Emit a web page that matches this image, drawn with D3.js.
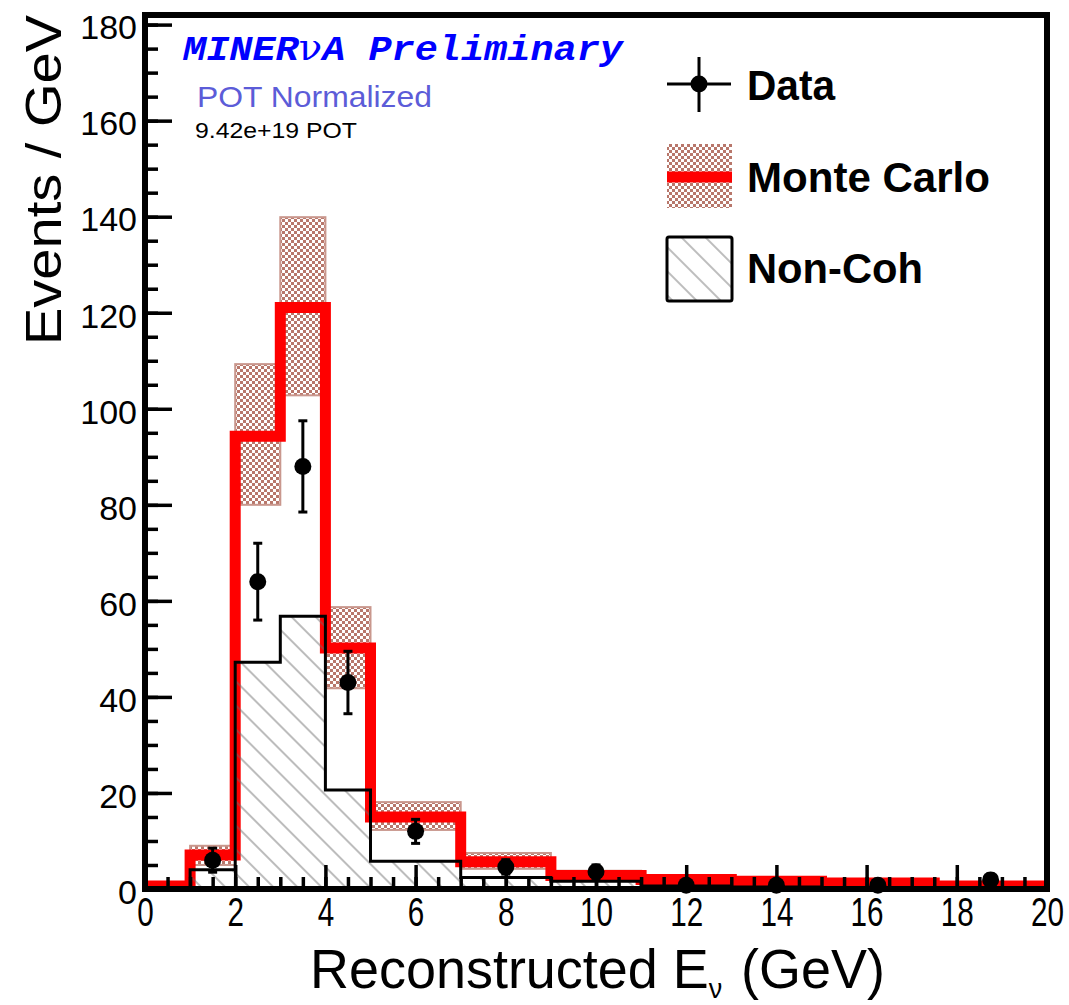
<!DOCTYPE html>
<html>
<head>
<meta charset="utf-8">
<script src="https://cdn.jsdelivr.net/npm/d3@7"></script>
<style>
body { margin: 0; background: #fff; }
svg text { font-family: "Liberation Sans", Arial, sans-serif; }
</style>
</head>
<body>
<svg id="chart" width="1069" height="1005"></svg>
<script>
// histogram bins (GeV) and contents (events / GeV)
const binEdges = [0, 1, 2, 3, 4, 5, 7, 9, 11, 13, 15, 17.5, 20];
const mcValues = [0.6, 7.1, 94.3, 121.1, 50.2, 15.0, 5.7, 2.8, 2.0, 1.6, 1.25, 0.6];
const mcBandLow = [0.3, 5.0, 80.0, 102.8, 41.8, 12.3, 4.2, 1.8, 1.4, 1.1, 0.9, 0.3];
const mcBandHigh = [0.9, 9.0, 109.3, 139.9, 58.7, 18.1, 7.5, 3.8, 2.6, 2.1, 1.6, 0.9];
const nonCohValues = [0, 4.0, 47.2, 56.8, 20.6, 5.8, 2.4, 1.6, 0.6, 0.4, 0.3, 0.2];
const dataX = [1.5, 2.5, 3.5, 4.5, 6, 8, 10, 12, 14, 16.25, 18.75];
const dataY = [6.0, 64, 88, 43, 12, 4.6, 3.6, 0.8, 0.8, 0.8, 1.9];
const dataErr = [2.5, 8, 9.5, 6.5, 2.5, 1.5, 1.4, 0.8, 0.8, 0.8, 1.2];
const xTickLabels = [0, 2, 4, 6, 8, 10, 12, 14, 16, 18, 20];
const yTickLabels = [0, 20, 40, 60, 80, 100, 120, 140, 160, 180];

const FRAME = {left: 145, right: 1047, top: 15, bottom: 889};
const RED = "#ff0000";
const BAND = "#b8776b";

const svg = d3.select("#chart");
svg.append("rect").attr("width", 1069).attr("height", 1005).attr("fill", "#fff");

const x = d3.scaleLinear().domain([0, 20]).range([FRAME.left, FRAME.right]);
const y = d3.scaleLinear().domain([0, 182]).range([FRAME.bottom, FRAME.top]);

const defs = svg.append("defs");
// checkered fill for the MC error band
const checker = defs.append("pattern").attr("id", "checker")
  .attr("patternUnits", "userSpaceOnUse").attr("width", 6).attr("height", 6);
checker.append("rect").attr("width", 6).attr("height", 6).attr("fill", BAND);
checker.append("rect").attr("x", 0).attr("y", 0).attr("width", 3).attr("height", 3).attr("fill", "#fff");
checker.append("rect").attr("x", 3).attr("y", 3).attr("width", 3).attr("height", 3).attr("fill", "#fff");
// diagonal hatch for non-coherent
const hatch = defs.append("pattern").attr("id", "hatch")
  .attr("patternUnits", "userSpaceOnUse").attr("width", 17).attr("height", 17)
  .attr("patternTransform", "rotate(-45)");
hatch.append("line").attr("x1", 8).attr("x2", 8).attr("y1", 0).attr("y2", 17)
  .attr("stroke", "#6a6a6a").attr("stroke-width", 0.9);

const bins = mcValues.map((v, i) => ({
  x0: binEdges[i], x1: binEdges[i + 1], mc: v,
  lo: mcBandLow[i], hi: mcBandHigh[i], nonCoh: nonCohValues[i]
}));

// MC error band
svg.append("g").selectAll("rect")
  .data(bins)
  .join("rect")
    .attr("x", d => x(d.x0))
    .attr("width", d => x(d.x1) - x(d.x0))
    .attr("y", d => y(d.hi))
    .attr("height", d => y(d.lo) - y(d.hi))
    .attr("fill", "url(#checker)")
    .attr("stroke", "#c9978d")
    .attr("stroke-width", 2);

// MC central value
const stepPts = bins.map(d => [d.x0, d.mc]).concat([[20, mcValues[mcValues.length - 1]]]);
const step = d3.line().x(d => x(d[0])).y(d => y(d[1])).curve(d3.curveStepAfter);
svg.append("path")
  .attr("d", step(stepPts))
  .attr("fill", "none")
  .attr("stroke", RED)
  .attr("stroke-width", 11)
  .attr("stroke-linejoin", "miter");

// non-coherent background
const ncPts = bins.map(d => [d.x0, d.nonCoh]).concat([[20, nonCohValues[nonCohValues.length - 1]]]);
const area = d3.area().x(d => x(d[0])).y0(y(0)).y1(d => y(d[1])).curve(d3.curveStepAfter);
svg.append("path").attr("d", area(ncPts)).attr("fill", "url(#hatch)");
svg.append("path")
  .attr("d", step([[0, 0]].concat(ncPts)))
  .attr("fill", "none")
  .attr("stroke", "#000")
  .attr("stroke-width", 3);

// data points
const pts = dataX.map((v, i) => ({x: v, y: dataY[i], e: dataErr[i]}));
const dg = svg.append("g");
dg.selectAll("line.err")
  .data(pts)
  .join("line")
    .attr("class", "err")
    .attr("x1", d => x(d.x)).attr("x2", d => x(d.x))
    .attr("y1", d => y(d.y - d.e)).attr("y2", d => y(d.y + d.e))
    .attr("stroke", "#000").attr("stroke-width", 3);
["lo", "hi"].forEach(side => {
  dg.selectAll("line.cap-" + side)
    .data(pts)
    .join("line")
      .attr("class", "cap-" + side)
      .attr("x1", d => x(d.x) - 4.5).attr("x2", d => x(d.x) + 4.5)
      .attr("y1", d => y(side === "lo" ? d.y - d.e : d.y + d.e))
      .attr("y2", d => y(side === "lo" ? d.y - d.e : d.y + d.e))
      .attr("stroke", "#000").attr("stroke-width", 3);
});
dg.selectAll("circle")
  .data(pts)
  .join("circle")
    .attr("cx", d => x(d.x)).attr("cy", d => y(d.y))
    .attr("r", 8.5).attr("fill", "#000");

// axes: ticks inside the frame
const xMinor = d3.range(0, 20.01, 0.5);
const yMinor = d3.range(0, 181, 5);
svg.append("g").attr("transform", "translate(0," + FRAME.bottom + ")")
  .call(d3.axisBottom(x).tickValues(xMinor).tickSize(-12).tickFormat(""))
  .call(g => g.select(".domain").remove())
  .call(g => g.selectAll("line").attr("stroke", "#000").attr("stroke-width", 3.5));
svg.append("g").attr("transform", "translate(0," + FRAME.bottom + ")")
  .call(d3.axisBottom(x).tickValues(xTickLabels).tickSize(-24).tickPadding(9))
  .call(g => g.select(".domain").remove())
  .call(g => g.selectAll("line").attr("stroke", "#000").attr("stroke-width", 3.5))
  .call(g => g.selectAll("text")
    .attr("fill", "#000")
    .style("font-size", "40px")
    .attr("textLength", d => String(d).length * 16.5)
    .attr("lengthAdjust", "spacingAndGlyphs"));

svg.append("g").attr("transform", "translate(" + FRAME.left + ",0)")
  .call(d3.axisLeft(y).tickValues(yMinor).tickSize(-13).tickFormat(""))
  .call(g => g.select(".domain").remove())
  .call(g => g.selectAll("line").attr("stroke", "#000").attr("stroke-width", 3.5));
svg.append("g").attr("transform", "translate(" + FRAME.left + ",0)")
  .call(d3.axisLeft(y).tickValues(yTickLabels).tickSize(-27).tickPadding(8))
  .call(g => g.select(".domain").remove())
  .call(g => g.selectAll("line").attr("stroke", "#000").attr("stroke-width", 3.5))
  .call(g => g.selectAll("text").attr("fill", "#000").style("font-size", "34px").attr("dy", "0.42em"));

// frame
svg.append("rect")
  .attr("x", FRAME.left).attr("y", FRAME.top)
  .attr("width", FRAME.right - FRAME.left).attr("height", FRAME.bottom - FRAME.top)
  .attr("fill", "none").attr("stroke", "#000").attr("stroke-width", 6);

// axis titles
svg.append("text")
  .attr("transform", "translate(61,345) rotate(-90)")
  .attr("textLength", 330).attr("lengthAdjust", "spacingAndGlyphs")
  .style("font-size", "50px")
  .text("Events / GeV");

const xt = svg.append("text")
  .attr("x", 310).attr("y", 988)
  .attr("textLength", 575).attr("lengthAdjust", "spacingAndGlyphs")
  .style("font-size", "56px");
xt.append("tspan").text("Reconstructed E");
xt.append("tspan").attr("dy", 10).style("font-size", "28px").text("ν");
xt.append("tspan").attr("dy", -10).attr("dx", 4).text(" (GeV)");

// labels in the top-left corner
const mv = svg.append("text")
  .attr("x", 183).attr("y", 60)
  .attr("fill", "#0000ff")
  .attr("textLength", 440).attr("lengthAdjust", "spacingAndGlyphs")
  .style("font-family", "'Liberation Mono', 'Courier New', monospace")
  .style("font-weight", "bold").style("font-style", "italic")
  .style("font-size", "35px");
mv.append("tspan").text("MINER");
mv.append("tspan").style("font-family", "'DejaVu Serif', serif")
  .style("font-weight", "normal").style("font-style", "normal").text("ν");
mv.append("tspan").text("A Preliminary");

svg.append("text")
  .attr("x", 197).attr("y", 107)
  .attr("fill", "#5c5cd8")
  .attr("textLength", 235).attr("lengthAdjust", "spacingAndGlyphs")
  .style("font-size", "30px")
  .text("POT Normalized");
svg.append("text")
  .attr("x", 195).attr("y", 138)
  .attr("fill", "#000")
  .attr("textLength", 162).attr("lengthAdjust", "spacingAndGlyphs")
  .style("font-size", "22px")
  .text("9.42e+19 POT");

// legend
const lg = svg.append("g");
lg.append("line").attr("x1", 667).attr("x2", 731).attr("y1", 84).attr("y2", 84)
  .attr("stroke", "#000").attr("stroke-width", 3);
lg.append("line").attr("x1", 699).attr("x2", 699).attr("y1", 57).attr("y2", 112)
  .attr("stroke", "#000").attr("stroke-width", 3);
lg.append("circle").attr("cx", 699).attr("cy", 84).attr("r", 8.5).attr("fill", "#000");

lg.append("rect").attr("x", 667).attr("y", 144).attr("width", 65).attr("height", 64)
  .attr("fill", "url(#checker)");
lg.append("line").attr("x1", 667).attr("x2", 732).attr("y1", 177).attr("y2", 177)
  .attr("stroke", RED).attr("stroke-width", 11);

lg.append("rect").attr("x", 667).attr("y", 237).attr("width", 65).attr("height", 64)
  .attr("fill", "#fff").attr("rx", 2);
lg.append("rect").attr("x", 667).attr("y", 237).attr("width", 65).attr("height", 64)
  .attr("fill", "url(#hatch)").attr("stroke", "#000").attr("stroke-width", 3).attr("rx", 2);

const legendNames = ["Data", "Monte Carlo", "Non-Coh"];
const legendBase = [100, 192, 283];
const legendLen = [88, 243, 176];
lg.selectAll("text.leg")
  .data(legendNames)
  .join("text")
    .attr("class", "leg")
    .attr("x", 747)
    .attr("y", (d, i) => legendBase[i])
    .attr("textLength", (d, i) => legendLen[i])
    .attr("lengthAdjust", "spacingAndGlyphs")
    .style("font-size", "43px")
    .style("font-weight", "bold")
    .text(d => d);
</script>
</body>
</html>
